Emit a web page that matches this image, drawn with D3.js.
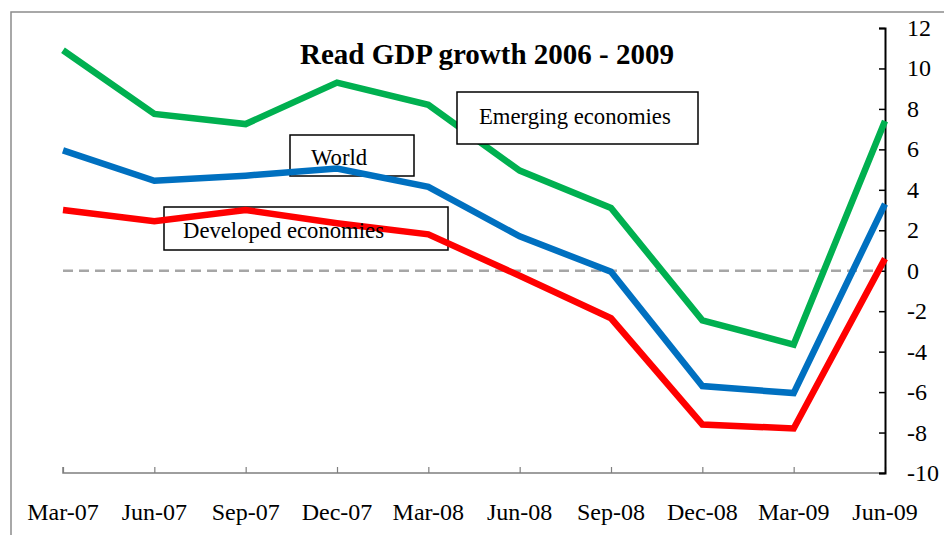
<!DOCTYPE html>
<html>
<head>
<meta charset="utf-8">
<script src="https://cdn.jsdelivr.net/npm/d3@7/dist/d3.min.js"></script>
<style>
  html, body { margin: 0; padding: 0; background: #fff; }
  svg { display: block; }
  text { font-family: "Liberation Serif", "Times New Roman", serif; fill: #000; }
</style>
</head>
<body>
<svg id="chart" width="944" height="535"></svg>
<script>
// Quarterly real GDP growth, % year on year
const quarters = ["Mar-07", "Jun-07", "Sep-07", "Dec-07", "Mar-08", "Jun-08", "Sep-08", "Dec-08", "Mar-09", "Jun-09"];
const emerging  = [10.9, 7.75, 7.25, 9.3, 8.2, 4.95, 3.1, -2.45, -3.65, 7.4];
const world     = [5.95, 4.45, 4.7, 5.05, 4.15, 1.7, -0.05, -5.7, -6.05, 3.3];
const developed = [3.0, 2.45, 3.0, 2.35, 1.8, -0.25, -2.35, -7.6, -7.8, 0.6];
const yTicks = [12, 10, 8, 6, 4, 2, 0, -2, -4, -6, -8, -10];

const svg = d3.select("#chart");

// outer frame
svg.append("rect")
  .attr("x", 11).attr("y", 12).attr("width", 960).attr("height", 560)
  .attr("fill", "none").attr("stroke", "#8c8c8c").attr("stroke-width", 1.5);

const x = d3.scalePoint().domain(quarters).range([63, 885]);
const y = d3.scaleLinear().domain([-10, 12]).range([473, 28]);

// x axis (ticks point up into the plot)
const xAxis = svg.append("g").attr("transform", "translate(0,473)")
  .call(d3.axisTop(x).tickSize(6).tickFormat(""));
xAxis.select(".domain").attr("stroke", "#7f7f7f").attr("stroke-width", 1.5).attr("d", `M${x(quarters[0])},-6V0H${x(quarters[quarters.length-1])}`);
xAxis.selectAll(".tick line").attr("stroke", "#7f7f7f").attr("stroke-width", 1.2);

svg.append("g").selectAll("text").data(quarters).join("text")
  .attr("x", d => x(d)).attr("y", 520)
  .attr("text-anchor", "middle")
  .style("font-size", "24px")
  .text(d => d);

// y axis on the right (ticks point left into the plot)
const yAxis = svg.append("g").attr("transform", "translate(885,0)")
  .call(d3.axisLeft(y).tickValues(yTicks).tickSize(6).tickSizeOuter(6).tickFormat(""));
yAxis.select(".domain").attr("stroke", "#000").attr("stroke-width", 2);
yAxis.selectAll(".tick line").attr("stroke", "#000").attr("stroke-width", 1.5);

svg.append("g").selectAll("text").data(yTicks).join("text")
  .attr("x", 907).attr("y", d => y(d) + 8)
  .style("font-size", "24px")
  .text(d => d);

// zero reference line
svg.append("line")
  .attr("x1", x(quarters[0])).attr("x2", 880)
  .attr("y1", y(0)).attr("y2", y(0))
  .attr("stroke", "#a6a6a6").attr("stroke-width", 2.5)
  .attr("stroke-dasharray", "10,6");

// label frames for World and Developed sit beneath the lines
const boxes = svg.append("g");
boxes.append("rect").attr("x", 290).attr("y", 135).attr("width", 124).attr("height", 41)
  .attr("fill", "none").attr("stroke", "#000").attr("stroke-width", 1.5);
boxes.append("rect").attr("x", 164).attr("y", 207).attr("width", 284).attr("height", 43)
  .attr("fill", "none").attr("stroke", "#000").attr("stroke-width", 1.5);

// series lines
const line = d3.line().x((d, i) => x(quarters[i])).y(d => y(d)).curve(d3.curveLinear);
const series = [
  { name: "Emerging economies", values: emerging, color: "#00b050" },
  { name: "World", values: world, color: "#0070c0" },
  { name: "Developed economies", values: developed, color: "#ff0000" }
];
svg.append("g").selectAll("path").data(series).join("path")
  .attr("d", d => line(d.values))
  .attr("fill", "none")
  .attr("stroke", d => d.color)
  .attr("stroke-width", 6.5)
  .attr("stroke-linejoin", "miter")
  .attr("stroke-linecap", "butt");

// Emerging economies label box covers the line behind it
svg.append("rect").attr("x", 457).attr("y", 92).attr("width", 241).attr("height", 52)
  .attr("fill", "#fff").attr("stroke", "#000").attr("stroke-width", 1.5);

const labels = [
  { text: "Emerging economies", x: 479, y: 124 },
  { text: "World", x: 311, y: 165 },
  { text: "Developed economies", x: 183, y: 238 }
];
svg.append("g").selectAll("text").data(labels).join("text")
  .attr("x", d => d.x).attr("y", d => d.y)
  .style("font-size", "22.7px")
  .text(d => d.text);

// title
svg.append("text")
  .attr("x", 487).attr("y", 64)
  .attr("text-anchor", "middle")
  .style("font-size", "29px").style("font-weight", "bold")
  .text("Read GDP growth 2006 - 2009");
</script>
</body>
</html>
